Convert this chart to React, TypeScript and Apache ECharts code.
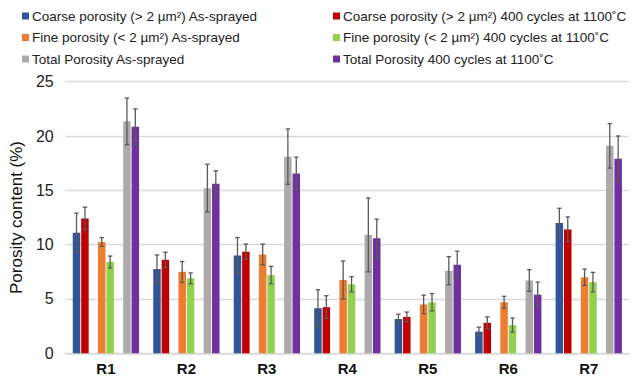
import React, { useEffect, useRef } from "react";
import * as echarts from "echarts";

const categories = ["R1", "R2", "R3", "R4", "R5", "R6", "R7"];
const yTicks = [0, 5, 10, 15, 20, 25];

const coarseAs = [11.1, 7.75, 9.0, 4.15, 3.15, 2.0, 12.0];
const coarseCycled = [12.4, 8.6, 9.35, 4.25, 3.35, 2.8, 11.4];
const fineAs = [10.25, 7.5, 9.1, 6.75, 4.5, 4.7, 7.0];
const fineCycled = [8.4, 6.9, 7.2, 6.35, 4.7, 2.6, 6.55];
const totalAs = [21.35, 15.2, 18.1, 10.9, 7.6, 6.7, 19.1];
const totalCycled = [20.85, 15.6, 16.55, 10.6, 8.15, 5.4, 17.9];

const coarseAsErr = [1.8, 1.3, 1.65, 1.7, 0.45, 0.4, 1.35];
const coarseCycledErr = [1.05, 0.7, 0.7, 1.05, 0.45, 0.55, 1.15];
const fineAsErr = [0.4, 0.95, 0.95, 1.75, 0.85, 0.55, 0.75];
const fineCycledErr = [0.55, 0.5, 0.8, 0.7, 0.8, 0.65, 0.9];
const totalAsErr = [2.15, 2.2, 2.55, 3.4, 1.3, 1.0, 2.05];
const totalCycledErr = [1.65, 1.2, 1.5, 1.75, 1.25, 1.15, 2.1];

const seriesNames = [
  "Coarse porosity (> 2 µm²) As-sprayed",
  "Coarse porosity (> 2 µm²) 400 cycles at 1100˚C",
  "Fine porosity (< 2 µm²) As-sprayed",
  "Fine porosity (< 2 µm²) 400 cycles at 1100˚C",
  "Total Porosity As-sprayed",
  "Total Porosity 400 cycles at 1100˚C",
];
const seriesColors = ["#2F5597", "#C00000", "#ED7D31", "#92D050", "#AEAAAA", "#7030A0"];
const seriesValues = [coarseAs, coarseCycled, fineAs, fineCycled, totalAs, totalCycled];
const seriesErrors = [coarseAsErr, coarseCycledErr, fineAsErr, fineCycledErr, totalAsErr, totalCycledErr];
// slot index of each real series within a category (slots 2 and 5 are spacers)
const seriesSlots = [0, 1, 3, 4, 6, 7];

const BAR_W = 7.5;
const BAR_GAP = 0.9;

export default function App() {
  const ref = useRef<HTMLDivElement>(null);

  useEffect(() => {
    document.body.style.margin = "0";
    if (!ref.current) return;
    const chart = echarts.init(ref.current, undefined, { renderer: "svg" });

    const barSeries: any[] = [];
    const slotToSeries: Record<number, number> = {};
    seriesSlots.forEach((s, i) => (slotToSeries[s] = i));
    for (let slot = 0; slot < 8; slot++) {
      const idx = slotToSeries[slot];
      if (idx === undefined) {
        barSeries.push({
          type: "bar",
          name: "spacer" + slot,
          data: categories.map(() => null),
          barWidth: BAR_W,
          barGap: (BAR_GAP / BAR_W) * 100 + "%",
          silent: true,
        });
      } else {
        barSeries.push({
          type: "bar",
          name: seriesNames[idx],
          data: seriesValues[idx],
          barWidth: BAR_W,
          barGap: (BAR_GAP / BAR_W) * 100 + "%",
          itemStyle: { color: seriesColors[idx] },
          silent: true,
        });
      }
    }

    const errData: number[][] = [];
    seriesValues.forEach((vals, si) => {
      vals.forEach((v, ci) => {
        const e = seriesErrors[si][ci];
        errData.push([ci, v - e, v + e, seriesSlots[si]]);
      });
    });

    const errorSeries = {
      type: "custom",
      name: "errors",
      silent: true,
      z: 10,
      data: errData,
      encode: { x: 0, y: [1, 2] },
      renderItem: (params: any, api: any) => {
        const ci = api.value(0);
        const lo = api.coord([ci, api.value(1)]);
        const hi = api.coord([ci, api.value(2)]);
        const slot = api.value(3);
        const x = lo[0] + (slot - 3.5) * (BAR_W + BAR_GAP);
        const cap = 2.2;
        const style = { stroke: "#595959", lineWidth: 1.3 };
        return {
          type: "group",
          children: [
            { type: "line", shape: { x1: x, y1: lo[1], x2: x, y2: hi[1] }, style },
            { type: "line", shape: { x1: x - cap, y1: hi[1], x2: x + cap, y2: hi[1] }, style },
            { type: "line", shape: { x1: x - cap, y1: lo[1], x2: x + cap, y2: lo[1] }, style },
          ],
        };
      },
    };

    const legendCommon = {
      orient: "vertical",
      top: 9,
      padding: 0,
      itemWidth: 7,
      itemHeight: 7,
      itemGap: 7.5,
      icon: "rect",
      selectedMode: false,
      textStyle: { fontSize: 13.5, color: "#222", fontFamily: "Liberation Sans, Arial, sans-serif", padding: [0, 0, 0, -2] },
    };

    chart.setOption({
      animation: false,
      textStyle: { fontFamily: "Liberation Sans, Arial, sans-serif" },
      legend: [
        { ...legendCommon, left: 22, data: [seriesNames[0], seriesNames[2], seriesNames[4]] },
        { ...legendCommon, left: 333, data: [seriesNames[1], seriesNames[3], seriesNames[5]] },
      ],
      grid: { left: 60, right: 3, top: 81.7, bottom: 25.7, containLabel: false },
      xAxis: {
        type: "category",
        data: categories,
        axisLine: { show: true, lineStyle: { color: "#D9D9D9", width: 1.5 } },
        axisTick: { show: false },
        axisLabel: { fontSize: 15, fontWeight: "bold", color: "#111", margin: 8 },
      },
      yAxis: {
        type: "value",
        min: yTicks[0],
        max: yTicks[yTicks.length - 1],
        interval: 5,
        name: "Porosity content (%)",
        nameLocation: "middle",
        nameGap: 38,
        nameTextStyle: { fontSize: 17, color: "#111", fontWeight: 500 },
        axisLine: { show: false },
        axisTick: { show: false },
        axisLabel: { fontSize: 16, color: "#222", margin: 12 },
        splitLine: { lineStyle: { color: "#D9D9D9", width: 1.3 } },
      },
      series: [...barSeries, errorSeries],
    });

    return () => chart.dispose();
  }, []);

  return <div ref={ref} style={{ width: 632, height: 379 }} />;
}
